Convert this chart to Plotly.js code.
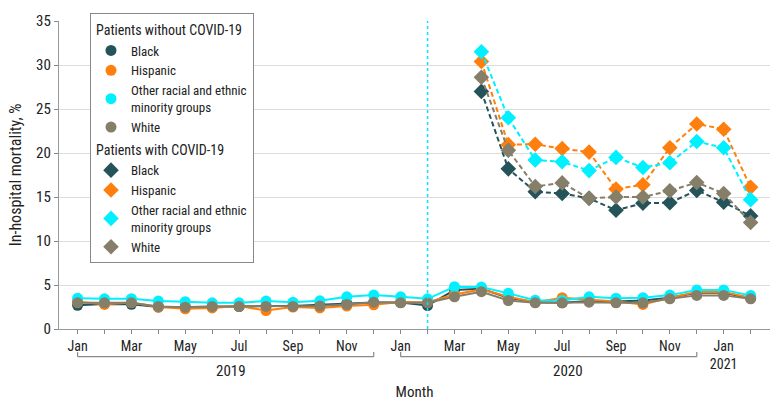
<!DOCTYPE html>
<html>
<head>
<meta charset="utf-8">
<script src="https://cdn.plot.ly/plotly-3.0.1.min.js"></script>
<style>
html,body{margin:0;padding:0;background:#fff;}
#chart{width:780px;height:409px;}
</style>
</head>
<body>
<div id="chart"></div>
<script>
// ---- Data ----
const months = ["2019-01","2019-02","2019-03","2019-04","2019-05","2019-06","2019-07","2019-08","2019-09","2019-10","2019-11","2019-12",
  "2020-01","2020-02","2020-03","2020-04","2020-05","2020-06","2020-07","2020-08","2020-09","2020-10","2020-11","2020-12",
  "2021-01","2021-02"];
const tickLabels = ["Jan","","Mar","","May","","Jul","","Sep","","Nov","",
  "Jan","","Mar","","May","","Jul","","Sep","","Nov","",
  "Jan<br>2021",""];
const covidMonths = months.slice(15);

// Patients without COVID-19 (in-hospital mortality, %)
const nonCovidBlack    = [2.7,2.85,2.8,2.5,2.5,2.5,2.55,2.6,2.6,2.75,2.9,3.0,3.0,2.67,4.43,4.58,3.55,3.05,2.98,3.17,3.13,3.24,3.55,4.12,4.12,3.5];
const nonCovidHispanic = [3.1,2.8,3.0,2.5,2.3,2.4,2.6,2.1,2.5,2.4,2.6,2.75,3.08,3.05,3.93,4.5,3.66,3.05,3.55,3.36,3.13,2.79,3.55,4.2,4.2,3.55];
const nonCovidOther    = [3.5,3.43,3.45,3.17,3.1,2.98,2.98,3.17,3.05,3.2,3.66,3.85,3.66,3.43,4.8,4.77,4.05,3.28,3.24,3.66,3.5,3.55,3.85,4.43,4.43,3.82];
const nonCovidWhite    = [2.98,2.98,2.98,2.56,2.48,2.56,2.56,2.56,2.56,2.6,2.79,3.05,2.98,2.98,3.66,4.24,3.24,2.98,2.98,3.05,2.98,2.98,3.43,3.82,3.82,3.43];

// Patients with COVID-19 (Apr 2020 - Feb 2021)
const covidBlack    = [27.0,18.2,15.6,15.4,14.85,13.5,14.3,14.35,15.75,14.4,12.85];
const covidHispanic = [30.4,20.95,21.0,20.5,20.1,15.9,16.4,20.6,23.3,22.7,16.1];
const covidOther    = [31.5,24.0,19.2,19.0,18.0,19.5,18.35,18.9,21.3,20.6,14.7];
const covidWhite    = [28.6,20.3,16.2,16.6,14.85,15.0,15.0,15.7,16.65,15.4,12.1];

const yearLabels = ["2019","2020"];

// ---- Styles ----
const colors = {black:"#24535a", hispanic:"#ff7f0e", other:"#00f0ff", white:"#857f6a"};
const FONT = "'Roboto Condensed','Liberation Sans Narrow','DejaVu Sans Condensed',Arial,sans-serif";

function series(x, y, name, color, covid, groupTitle, group) {
  const line = {
    x: x, y: y, type: "scatter", mode: "lines", showlegend: false, hoverinfo: "skip",
    line: {color: color, width: 2, dash: covid ? "5px,3px" : "solid"}
  };
  const mk = {
    x: x, y: y, type: "scatter", mode: "markers", name: name, legendgroup: group,
    marker: {color: color, size: covid ? 12 : 11, symbol: covid ? "diamond" : "circle"}
  };
  if (groupTitle) mk.legendgrouptitle = {text: groupTitle, font: {size: 14, color: "#222", family: FONT}};
  return [line, mk];
}

const traces = [].concat(
  series(months, nonCovidBlack, "Black", colors.black, false, "Patients without COVID-19", "g1"),
  series(months, nonCovidHispanic, "Hispanic", colors.hispanic, false, null, "g1"),
  series(months, nonCovidOther, "Other racial and ethnic<br>minority groups", colors.other, false, null, "g1"),
  series(months, nonCovidWhite, "White", colors.white, false, null, "g1"),
  series(covidMonths, covidBlack, "Black", colors.black, true, "Patients with COVID-19", "g2"),
  series(covidMonths, covidHispanic, "Hispanic", colors.hispanic, true, null, "g2"),
  series(covidMonths, covidOther, "Other racial and ethnic<br>minority groups", colors.other, true, null, "g2"),
  series(covidMonths, covidWhite, "White", colors.white, true, null, "g2")
);

const bracketY = -0.09, bracketTip = -0.075;
function bracket(x0, x1) {
  return [
    {type:"line", xref:"x", yref:"paper", x0:x0, x1:x1, y0:bracketY, y1:bracketY, line:{color:"#888", width:1.2}},
    {type:"line", xref:"x", yref:"paper", x0:x0, x1:x0, y0:bracketY, y1:bracketTip, line:{color:"#888", width:1.2}},
    {type:"line", xref:"x", yref:"paper", x0:x1, x1:x1, y0:bracketY, y1:bracketTip, line:{color:"#888", width:1.2}}
  ];
}

const layout = {
  width: 780, height: 409,
  margin: {l: 59, r: 10, t: 21, b: 79.5},
  paper_bgcolor: "#fff", plot_bgcolor: "#fff",
  font: {family: FONT, size: 14, color: "#222"},
  showlegend: true,
  legend: {
    x: 0.0436, y: 1.025, xanchor: "left", yanchor: "top",
    bordercolor: "#888", borderwidth: 1, bgcolor: "#fff",
    font: {size: 13, color: "#222", family: FONT},
    tracegroupgap: 2, traceorder: "grouped", maxheight: 300
  },
  xaxis: {
    type: "category", range: [-0.69, 25.72],
    tickmode: "array", tickvals: months, ticktext: tickLabels,
    ticks: "outside", ticklen: 4, tickcolor: "#888",
    showline: true, linecolor: "#999", linewidth: 1.2,
    showgrid: false, zeroline: false,
    tickfont: {size: 14, color: "#222"},
    title: {text: "Month", font: {size: 15, color: "#222"}, standoff: 15},
    fixedrange: true
  },
  yaxis: {
    range: [0, 35], dtick: 5, tick0: 0,
    ticks: "outside", ticklen: 4, tickcolor: "#888",
    showline: true, linecolor: "#999", linewidth: 1.2,
    showgrid: true, gridcolor: "#dcdcdc", gridwidth: 1, zeroline: false,
    tickfont: {size: 15, color: "#222"},
    title: {text: "In-hospital mortality, %", font: {size: 16, color: "#222"}, standoff: 10},
    fixedrange: true
  },
  shapes: [
    {type:"line", xref:"x", yref:"paper", x0:"2020-02", x1:"2020-02", y0:0, y1:1, line:{color:"#00e5ff", width:1.5, dash:"dot"}}
  ].concat(bracket("2019-01","2019-12"), bracket("2020-01","2020-12")),
  annotations: [
    {xref:"x", yref:"paper", x:5.7, y:-0.102, yanchor:"top", text:yearLabels[0], showarrow:false, font:{size:15, color:"#222"}},
    {xref:"x", yref:"paper", x:18.2, y:-0.102, yanchor:"top", text:yearLabels[1], showarrow:false, font:{size:15, color:"#222"}}
  ]
};

Plotly.newPlot("chart", traces, layout, {displayModeBar: false, staticPlot: true});
</script>
</body>
</html>
